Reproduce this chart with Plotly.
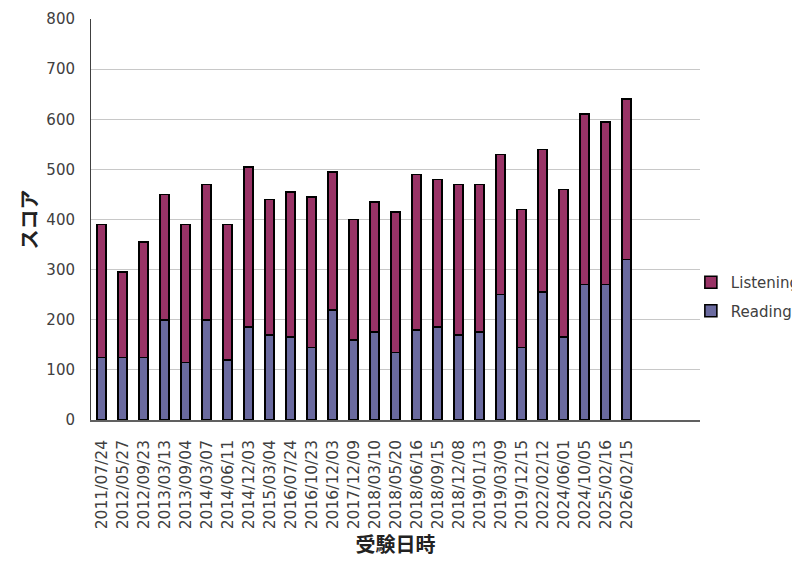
import plotly.graph_objects as go

dates = ["2011/07/24", "2012/05/27", "2012/09/23", "2013/03/13", "2013/09/04",
         "2014/03/07", "2014/06/11", "2014/12/03", "2015/03/04", "2016/07/24",
         "2016/10/23", "2016/12/03", "2017/12/09", "2018/03/10", "2018/05/20",
         "2018/06/16", "2018/09/15", "2018/12/08", "2019/01/13", "2019/03/09",
         "2019/12/15", "2022/02/12", "2024/06/01", "2024/10/05", "2025/02/16",
         "2026/02/15"]
reading = [125, 125, 125, 200, 115, 200, 120, 185, 170, 165, 145, 220, 160,
           175, 135, 180, 185, 170, 175, 250, 145, 255, 165, 270, 270, 320]
total = [390, 295, 355, 450, 390, 470, 390, 505, 440, 455, 445, 495, 400,
         435, 415, 490, 480, 470, 470, 530, 420, 540, 460, 610, 595, 640]
listening = [t - r for t, r in zip(total, reading)]

FONT = "DejaVu Sans"
TXT = "#404040"

fig = go.Figure()
fig.add_trace(go.Bar(
    x=dates, y=reading, name="Reading", legendgroup="r", legendrank=2,
    marker=dict(color="#6a6a9f", line=dict(color="#000000", width=1.6)),
    width=0.42,
))
fig.add_trace(go.Bar(
    x=dates, y=listening, name="Listening", legendgroup="l", legendrank=1,
    marker=dict(color="#993366", line=dict(color="#000000", width=1.6)),
    width=0.42,
))

fig.update_layout(
    width=800, height=570,
    barmode="stack",
    paper_bgcolor="white", plot_bgcolor="white",
    margin=dict(l=83, r=108, t=11, b=158, autoexpand=False),
    font=dict(family=FONT, color=TXT, size=15),
    legend=dict(
        x=0.985, xanchor="left", y=0.308, yanchor="middle",
        traceorder="grouped", tracegroupgap=6,
        font=dict(family=FONT, size=15, color=TXT),
        itemwidth=30,
        bgcolor="rgba(0,0,0,0)",
    ),
    showlegend=True,
)

fig.update_xaxes(
    type="category",
    range=[-0.5, 28.5],
    tickangle=-90,
    tickfont=dict(family=FONT, size=15.5, color=TXT),
    showgrid=False,
    showline=True, linecolor="#606060", linewidth=1.5,
    ticks="", ticklabelstandoff=12,
    title=dict(text="<b>受験日時</b>", font=dict(family="Noto Sans CJK JP", size=20, color="#222222"), standoff=0),
)
fig.update_yaxes(
    range=[0, 800], dtick=100,
    tickfont=dict(family=FONT, size=15, color=TXT),
    showgrid=True, gridcolor="#c8c8c8", gridwidth=1,
    showline=True, linecolor="#404040", linewidth=1,
    zeroline=False,
    ticks="", ticklabelstandoff=12,
    title=dict(text="<b>スコア</b>", font=dict(family="Noto Sans CJK JP", size=20, color="#222222"), standoff=3),
)

fig.write_html("out.html")
